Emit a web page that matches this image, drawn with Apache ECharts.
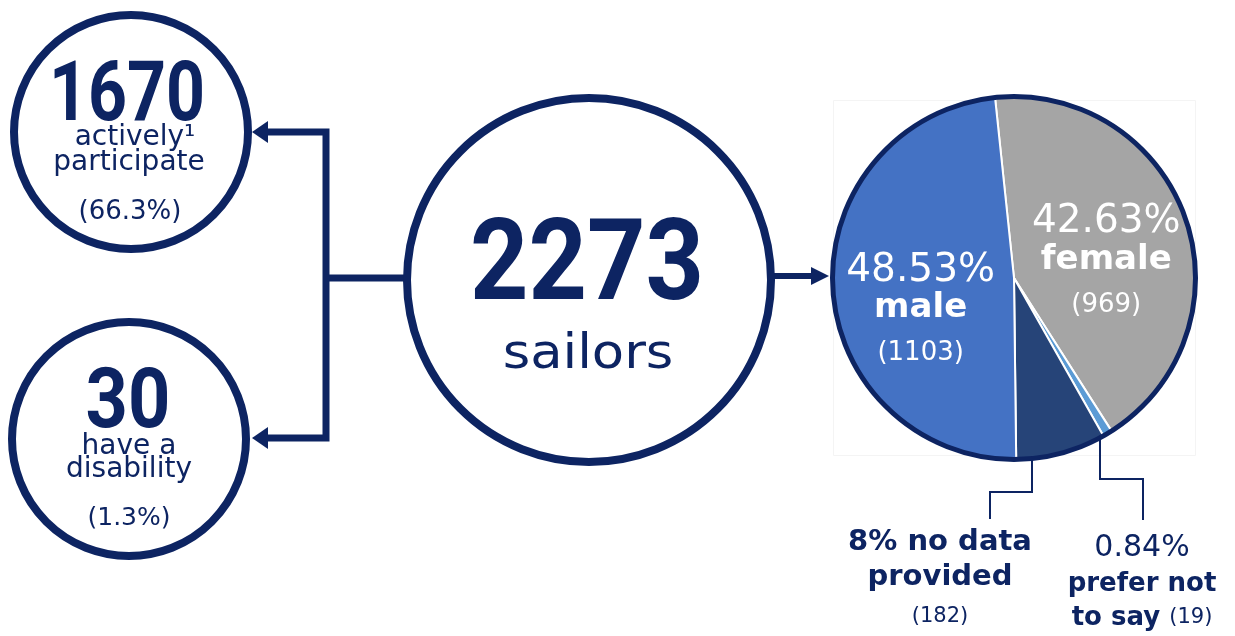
<!DOCTYPE html>
<html>
<head>
<meta charset="utf-8">
<title>Sailors</title>
<script src="https://cdn.jsdelivr.net/npm/echarts@6/dist/echarts.min.js"></script>
<style>
  html, body { margin: 0; padding: 0; background: #ffffff; }
  #chart { width: 1235px; height: 636px; }
</style>
</head>
<body>
<div id="chart"></div>
<script>
// Headline figures
const totalSailors = 2273;
const activeCount = 1670;
const activeShare = '66.3%';
const disabilityCount = 30;
const disabilityShare = '1.3%';

// Gender split, clockwise from the top of the pie
const genderCategories = ['female', 'prefer not to say', 'no data provided', 'male'];
const genderCounts = [969, 19, 182, 1103];
const genderShareLabels = ['42.63%', '0.84%', '8%', '48.53%'];

const NAVY = '#0d2462';
const sliceColors = ['#a5a5a5', '#5b9bd5', '#264478', '#4472c4'];
const SANS = '"DejaVu Sans", sans-serif';
const NUM = 'Roboto, "Liberation Sans", sans-serif';

const chart = echarts.init(document.getElementById('chart'), null, { renderer: 'canvas' });

function txt(text, x, y, size, weight, opts) {
  opts = opts || {};
  return {
    type: 'text', x: x, y: y, z: 20,
    scaleX: opts.scaleX || 1,
    style: {
      text: text, x: 0, y: 0,
      fill: opts.fill || NAVY,
      font: weight + ' ' + size + 'px ' + (opts.family || SANS),
      textAlign: 'center', textVerticalAlign: 'middle',
      rich: opts.rich
    }
  };
}

function ring(cx, cy, r, lw) {
  return { type: 'circle', z: 10, shape: { cx: cx, cy: cy, r: r },
    style: { fill: 'none', stroke: NAVY, lineWidth: lw } };
}

function line(points, lw) {
  return { type: 'polyline', z: 5, shape: { points: points },
    style: { stroke: NAVY, lineWidth: lw, fill: 'none', lineJoin: 'miter', lineCap: 'butt' } };
}

function head(points) {
  return { type: 'polygon', z: 6, shape: { points: points }, style: { fill: NAVY } };
}

const pieData = genderCategories.map((name, i) => {
  const item = { name: name, value: genderCounts[i], itemStyle: { color: sliceColors[i] } };
  if (name === 'male') {
    item.label = { show: true, padding: [64, 0, 0, 0],
      formatter: '{p|' + genderShareLabels[i] + '}\n{n|' + name + '}\n{c|(' + genderCounts[i] + ')}' };
  } else if (name === 'female') {
    item.label = { show: true, padding: [40, 0, 0, 8],
      formatter: '{p|' + genderShareLabels[i] + '}\n{n|' + name + '}\n{c|(' + genderCounts[i] + ')}' };
  } else {
    item.label = { show: false };
  }
  return item;
});

const ndIdx = genderCategories.indexOf('no data provided');
const pnsIdx = genderCategories.indexOf('prefer not to say');

const option = {
  backgroundColor: '#ffffff',
  animation: false,
  series: [{
    type: 'pie',
    center: [1014, 278],
    radius: [0, 181],
    startAngle: 96,
    clockwise: true,
    avoidLabelOverlap: false,
    silent: true,
    itemStyle: { borderColor: '#ffffff', borderWidth: 2 },
    labelLine: { show: false },
    label: {
      position: 'inside',
      color: '#ffffff',
      fontFamily: SANS,
      rich: {
        p: { fontSize: 39, lineHeight: 40, color: '#ffffff', fontFamily: SANS },
        n: { fontSize: 34, lineHeight: 36, fontWeight: 'bold', color: '#ffffff', fontFamily: SANS },
        c: { fontSize: 26, lineHeight: 54, color: '#ffffff', fontFamily: SANS }
      }
    },
    data: pieData
  }],
  graphic: [
    // faint frame around the pie
    { type: 'rect', z: 0, shape: { x: 833.5, y: 100.5, width: 362, height: 355 },
      style: { fill: 'none', stroke: '#f4f4f4', lineWidth: 1 } },

    // circles
    ring(131, 132, 117, 8),
    ring(129, 439, 117, 8),
    ring(589, 280, 182, 8),
    ring(1014, 278, 181.5, 5),

    // connectors and arrows
    line([[266, 132], [326, 132], [326, 438], [266, 438]], 7),
    line([[326, 278], [406, 278]], 7),
    head([[252, 132], [268, 121], [268, 143]]),
    head([[252, 438], [268, 427], [268, 449]]),
    line([[772, 276], [814, 276]], 6),
    head([[829, 276], [811, 267], [811, 285]]),

    // leader lines for the small slices
    line([[1032, 456], [1032, 492], [990, 492], [990, 519]], 2),
    line([[1100, 438], [1100, 479], [1143, 479], [1143, 520]], 2),

    // top-left circle
    txt(String(activeCount), 127, 98.5, 84, 'bold', { family: NUM, scaleX: 0.81 }),
    txt('actively\u00b9', 135, 138, 28, 'normal'),
    txt('participate', 129, 163, 28, 'normal'),
    txt('(' + activeShare + ')', 130, 212, 26, 'normal'),

    // bottom-left circle
    txt(String(disabilityCount), 128, 405.5, 84, 'bold', { family: NUM, scaleX: 0.88 }),
    txt('have a', 129, 447, 28, 'normal'),
    txt('disability', 129, 470, 28, 'normal'),
    txt('(' + disabilityShare + ')', 129, 518, 25, 'normal'),

    // centre circle
    txt(String(totalSailors), 587, 270, 114, 'bold', { family: NUM, scaleX: 0.895 }),
    txt('sailors', 588, 356, 48, 'normal', { scaleX: 1.1 }),

    // labels below the pie
    txt(genderShareLabels[ndIdx] + ' no data', 940, 542, 29, 'bold'),
    txt('provided', 940, 577, 29, 'bold'),
    txt('(' + genderCounts[ndIdx] + ')', 940, 617, 21, 'normal'),
    txt(genderShareLabels[pnsIdx], 1142, 548, 30, 'normal'),
    txt('prefer not', 1142, 584, 26, 'bold'),
    txt('{b|to say} {r|(' + genderCounts[pnsIdx] + ')}', 1142, 618, 26, 'bold', {
      rich: {
        b: { fontSize: 26, fontWeight: 'bold', fill: NAVY, fontFamily: SANS },
        r: { fontSize: 21, fontWeight: 'normal', fill: NAVY, fontFamily: SANS }
      }
    })
  ]
};

chart.setOption(option);
</script>
</body>
</html>
